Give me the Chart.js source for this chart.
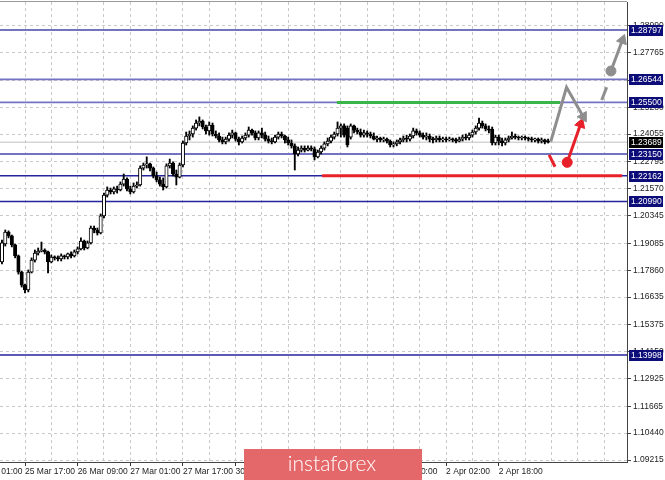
<!DOCTYPE html>
<html>
<head>
<meta charset="utf-8">
<script src="https://cdn.jsdelivr.net/npm/chart.js@4.4.1/dist/chart.umd.min.js"></script>
<style>
  html, body { margin: 0; padding: 0; background: #fff; }
  canvas { display: block; }
</style>
</head>
<body>
<canvas id="chart" width="665" height="480"></canvas>
<script>
// H1 candles, first one sits 7 bars left of the "25 Mar 17:00" tick
const firstBar = -7;

const opens = [
  1.1823, 1.1905, 1.1960, 1.1942, 1.1901, 1.1851, 1.1777, 1.1718,
  1.1696, 1.1777, 1.1832, 1.1864, 1.1873, 1.1878, 1.1869, 1.1823,
  1.1846, 1.1842, 1.1837, 1.1851, 1.1846, 1.1860, 1.1851, 1.1869,
  1.1883, 1.1919, 1.1887, 1.1910, 1.1978, 1.1969, 1.1956, 1.2033,
  1.2128, 1.2151, 1.2142, 1.2156, 1.2151, 1.2178, 1.2201, 1.2156,
  1.2142, 1.2169, 1.2174, 1.2251, 1.2265, 1.2270, 1.2251, 1.2215,
  1.2197, 1.2178, 1.2165, 1.2261, 1.2274, 1.2224, 1.2210, 1.2265,
  1.2365, 1.2397, 1.2406, 1.2433, 1.2456, 1.2465, 1.2438, 1.2420,
  1.2447, 1.2406, 1.2397, 1.2379, 1.2370, 1.2383, 1.2401, 1.2411,
  1.2383, 1.2370, 1.2388, 1.2401, 1.2424, 1.2411, 1.2388, 1.2411,
  1.2401, 1.2383, 1.2374, 1.2370, 1.2392, 1.2406, 1.2397, 1.2379,
  1.2365, 1.2352, 1.2315, 1.2333, 1.2342, 1.2333, 1.2342, 1.2338,
  1.2302, 1.2324, 1.2342, 1.2361, 1.2374, 1.2392, 1.2406, 1.2433,
  1.2443, 1.2433, 1.2392, 1.2443, 1.2424, 1.2415, 1.2401, 1.2411,
  1.2406, 1.2397, 1.2383, 1.2388, 1.2379, 1.2383, 1.2374, 1.2356,
  1.2361, 1.2370, 1.2379, 1.2388, 1.2383, 1.2397, 1.2420, 1.2411,
  1.2401, 1.2392, 1.2397, 1.2383, 1.2379, 1.2388, 1.2379, 1.2383,
  1.2379, 1.2383, 1.2379, 1.2374, 1.2383, 1.2392, 1.2388, 1.2401,
  1.2415, 1.2433, 1.2456, 1.2443, 1.2429, 1.2429, 1.2365, 1.2392,
  1.2374, 1.2365, 1.2379, 1.2388, 1.2397, 1.2392, 1.2388, 1.2392,
  1.2388, 1.2383, 1.2379, 1.2383, 1.2374, 1.2379, 1.2370
];
const highs = [
  1.1923, 1.1969, 1.1965, 1.1946, 1.1905, 1.1855, 1.1782, 1.1723,
  1.1787, 1.1842, 1.1878, 1.1887, 1.1914, 1.1883, 1.1873, 1.1855,
  1.1851, 1.1851, 1.1860, 1.1855, 1.1864, 1.1869, 1.1878, 1.1892,
  1.1933, 1.1923, 1.1919, 1.1987, 1.1987, 1.1978, 1.2042, 1.2137,
  1.2165, 1.2160, 1.2165, 1.2169, 1.2188, 1.2224, 1.2206, 1.2169,
  1.2183, 1.2188, 1.2261, 1.2274, 1.2302, 1.2274, 1.2256, 1.2233,
  1.2210, 1.2206, 1.2270, 1.2292, 1.2279, 1.2242, 1.2274, 1.2374,
  1.2415, 1.2420, 1.2443, 1.2470, 1.2484, 1.2470, 1.2447, 1.2461,
  1.2456, 1.2420, 1.2411, 1.2392, 1.2392, 1.2411, 1.2424, 1.2415,
  1.2392, 1.2397, 1.2411, 1.2438, 1.2429, 1.2420, 1.2420, 1.2433,
  1.2415, 1.2397, 1.2388, 1.2401, 1.2415, 1.2415, 1.2401, 1.2392,
  1.2379, 1.2361, 1.2347, 1.2352, 1.2352, 1.2352, 1.2352, 1.2347,
  1.2333, 1.2352, 1.2370, 1.2388, 1.2401, 1.2415, 1.2461, 1.2452,
  1.2452, 1.2443, 1.2452, 1.2447, 1.2433, 1.2429, 1.2424, 1.2420,
  1.2415, 1.2411, 1.2397, 1.2392, 1.2392, 1.2388, 1.2379, 1.2370,
  1.2379, 1.2388, 1.2397, 1.2401, 1.2406, 1.2433, 1.2429, 1.2420,
  1.2411, 1.2411, 1.2406, 1.2392, 1.2397, 1.2397, 1.2392, 1.2392,
  1.2392, 1.2388, 1.2388, 1.2392, 1.2401, 1.2406, 1.2411, 1.2424,
  1.2443, 1.2479, 1.2465, 1.2452, 1.2443, 1.2438, 1.2401, 1.2401,
  1.2388, 1.2388, 1.2397, 1.2415, 1.2406, 1.2397, 1.2397, 1.2397,
  1.2392, 1.2392, 1.2388, 1.2388, 1.2388, 1.2383, 1.2383
];
const lows = [
  1.1814, 1.1896, 1.1933, 1.1892, 1.1842, 1.1768, 1.1709, 1.1682,
  1.1687, 1.1773, 1.1823, 1.1855, 1.1869, 1.1860, 1.1773, 1.1819,
  1.1832, 1.1828, 1.1828, 1.1837, 1.1837, 1.1842, 1.1846, 1.1860,
  1.1878, 1.1878, 1.1883, 1.1905, 1.1956, 1.1946, 1.1951, 1.2024,
  1.2119, 1.2133, 1.2133, 1.2137, 1.2147, 1.2169, 1.2147, 1.2133,
  1.2137, 1.2160, 1.2169, 1.2242, 1.2251, 1.2238, 1.2206, 1.2188,
  1.2169, 1.2151, 1.2160, 1.2251, 1.2215, 1.2174, 1.2206, 1.2256,
  1.2356, 1.2379, 1.2392, 1.2424, 1.2443, 1.2429, 1.2406, 1.2401,
  1.2397, 1.2388, 1.2370, 1.2361, 1.2361, 1.2374, 1.2388, 1.2374,
  1.2356, 1.2365, 1.2379, 1.2392, 1.2401, 1.2379, 1.2379, 1.2388,
  1.2374, 1.2365, 1.2361, 1.2365, 1.2383, 1.2388, 1.2365, 1.2356,
  1.2342, 1.2242, 1.2306, 1.2324, 1.2324, 1.2329, 1.2329, 1.2288,
  1.2297, 1.2315, 1.2333, 1.2352, 1.2365, 1.2383, 1.2397, 1.2392,
  1.2392, 1.2347, 1.2383, 1.2411, 1.2406, 1.2392, 1.2392, 1.2392,
  1.2388, 1.2379, 1.2370, 1.2370, 1.2370, 1.2365, 1.2347, 1.2347,
  1.2352, 1.2361, 1.2370, 1.2370, 1.2374, 1.2388, 1.2401, 1.2392,
  1.2383, 1.2379, 1.2370, 1.2365, 1.2370, 1.2370, 1.2370, 1.2370,
  1.2374, 1.2370, 1.2365, 1.2370, 1.2374, 1.2379, 1.2379, 1.2392,
  1.2406, 1.2424, 1.2433, 1.2420, 1.2411, 1.2356, 1.2356, 1.2356,
  1.2352, 1.2356, 1.2370, 1.2383, 1.2383, 1.2379, 1.2379, 1.2379,
  1.2374, 1.2370, 1.2370, 1.2365, 1.2365, 1.2361, 1.2365
];
const closes = [
  1.1910, 1.1960, 1.1942, 1.1901, 1.1851, 1.1777, 1.1718, 1.1696,
  1.1777, 1.1832, 1.1864, 1.1873, 1.1878, 1.1869, 1.1823, 1.1846,
  1.1842, 1.1837, 1.1851, 1.1846, 1.1860, 1.1851, 1.1869, 1.1883,
  1.1919, 1.1887, 1.1910, 1.1978, 1.1969, 1.1956, 1.2033, 1.2128,
  1.2151, 1.2142, 1.2156, 1.2151, 1.2178, 1.2201, 1.2156, 1.2142,
  1.2169, 1.2174, 1.2251, 1.2265, 1.2270, 1.2251, 1.2215, 1.2197,
  1.2178, 1.2165, 1.2261, 1.2274, 1.2224, 1.2210, 1.2265, 1.2365,
  1.2397, 1.2406, 1.2433, 1.2456, 1.2465, 1.2438, 1.2420, 1.2447,
  1.2406, 1.2397, 1.2379, 1.2370, 1.2383, 1.2401, 1.2411, 1.2383,
  1.2370, 1.2388, 1.2401, 1.2424, 1.2411, 1.2388, 1.2411, 1.2401,
  1.2383, 1.2374, 1.2370, 1.2392, 1.2406, 1.2397, 1.2379, 1.2365,
  1.2352, 1.2315, 1.2333, 1.2342, 1.2333, 1.2342, 1.2338, 1.2302,
  1.2324, 1.2342, 1.2361, 1.2374, 1.2392, 1.2406, 1.2433, 1.2443,
  1.2401, 1.2356, 1.2443, 1.2424, 1.2415, 1.2401, 1.2411, 1.2406,
  1.2397, 1.2383, 1.2388, 1.2379, 1.2383, 1.2374, 1.2356, 1.2361,
  1.2370, 1.2379, 1.2388, 1.2383, 1.2397, 1.2420, 1.2411, 1.2401,
  1.2392, 1.2397, 1.2383, 1.2379, 1.2388, 1.2379, 1.2383, 1.2379,
  1.2383, 1.2379, 1.2374, 1.2383, 1.2392, 1.2388, 1.2401, 1.2415,
  1.2433, 1.2456, 1.2443, 1.2429, 1.2424, 1.2365, 1.2392, 1.2374,
  1.2365, 1.2379, 1.2388, 1.2397, 1.2392, 1.2388, 1.2392, 1.2388,
  1.2383, 1.2379, 1.2383, 1.2374, 1.2379, 1.2370, 1.23689
];

// axis
const priceTicks = [1.28990, 1.27765, 1.26505, 1.25280, 1.24055, 1.22795, 1.21570, 1.20345,
  1.19085, 1.17860, 1.16635, 1.15375, 1.14150, 1.12925, 1.11665, 1.10440, 1.09215];
const timeTickBars = [-16, 0, 16, 32, 48, 64, 80, 96, 112, 128, 144];
const timeLabels = ['25 Mar 01:00', '25 Mar 17:00', '26 Mar 09:00', '27 Mar 01:00', '27 Mar 17:00',
  '30 Mar 09:00', '31 Mar 01:00', '31 Mar 17:00', '1 Apr 10:00', '2 Apr 02:00', '2 Apr 18:00'];

// horizontal levels and the last price
const levels = [1.28797, 1.26544, 1.25500, 1.23150, 1.22162, 1.20990, 1.13998];
const lastPrice = 1.23689;

// target lines: [fromBar, toBar, price]
const greenTarget = [94.8, 162.6, 1.25500];
const redTarget = [90.3, 181.5, 1.22162];

// forecast arrows, [bar, price] pairs
const grayPath = [[159.8, 1.2371], [164.6, 1.2619], [169.7, 1.2485]];
const grayDash = [[175.3, 1.2561], [176.8, 1.2619]];
const grayUp = [[178.1, 1.2693], [181.6, 1.2834]];
const redDash = [[159.3, 1.2311], [161.1, 1.2257]];
const redUp = [[164.8, 1.2277], [168.9, 1.2452]];

// ---- styling
const levelColors = ['#4444a8', '#7373c2', '#7373c2', '#7373c2', '#24249c', '#24249c', '#24249c'];
const FONT = '"Liberation Sans", Arial, sans-serif';
const GRAY = '#8e8e8e';
const RED = '#e8202a';

const bars = opens.map((_, k) => k + firstBar);
const toPts = arr => arr.map(p => ({ x: p[0], y: p[1] }));

function headAngle(c) {
  const d = c.dataset.data, i = c.dataIndex;
  if (i === 0) return 0;
  const { x, y } = c.chart.scales;
  const dx = x.getPixelForValue(d[i].x) - x.getPixelForValue(d[i - 1].x);
  const dy = y.getPixelForValue(d[i].y) - y.getPixelForValue(d[i - 1].y);
  return Math.atan2(dx, -dy) * 180 / Math.PI;
}

function arrow(points, color, startDot) {
  const n = points.length;
  return {
    type: 'line', data: toPts(points), order: 0,
    borderColor: color, borderWidth: 3, tension: 0, fill: false,
    pointRadius: points.map((_, i) => i === n - 1 ? 6 : (i === 0 && startDot ? 5 : 0)),
    pointStyle: points.map((_, i) => i === n - 1 ? 'triangle' : 'circle'),
    pointBackgroundColor: color, pointBorderColor: color, pointBorderWidth: 1,
    pointRotation: headAngle
  };
}
function segment(points, color) {
  return { type: 'line', data: toPts(points), order: 0, borderColor: color, borderWidth: 3,
    pointRadius: 0, fill: false, tension: 0 };
}
function hline(from, to, value, color, width, order) {
  return { type: 'line', data: [{ x: from, y: value }, { x: to, y: value }], order,
    borderColor: color, borderWidth: width, pointRadius: 0, fill: false };
}

const datasets = [];
// candle bodies
datasets.push({
  type: 'bar', order: 1, grouped: false,
  data: bars.map((b, k) => ({ x: b, y: [opens[k], closes[k]] })),
  backgroundColor: bars.map((_, k) => closes[k] >= opens[k] ? '#ffffff' : '#000000'),
  borderColor: '#000000', borderWidth: 1, borderSkipped: false,
  barThickness: 3.4, minBarLength: 1
});
// wicks
datasets.push({
  type: 'bar', order: 2, grouped: false,
  data: bars.map((b, k) => ({ x: b, y: [lows[k], highs[k]] })),
  backgroundColor: '#000000', borderWidth: 0, barThickness: 1.2
});
levels.forEach((v, i) => datasets.push(hline(-10, 190, v, levelColors[i], i === 0 || i > 3 ? 1.4 : 1.8, 5)));
datasets.push(hline(-10, 190, lastPrice, '#c0c0c0', 1, 6));
datasets.push(hline(greenTarget[0], greenTarget[1], greenTarget[2], '#3ab54a', 3, 4));
datasets.push(hline(redTarget[0], redTarget[1], redTarget[2], RED, 3, 4));
datasets.push(arrow(grayPath, GRAY, false));
datasets.push(segment(grayDash, GRAY));
datasets.push(arrow(grayUp, GRAY, true));
datasets.push(segment(redDash, RED));
datasets.push(arrow(redUp, RED, true));

const overlay = {
  id: 'overlay',
  afterDraw(chart) {
    const { ctx, chartArea: a, scales: { x, y } } = chart;
    ctx.save();
    // frame top
    ctx.strokeStyle = '#9a9a9a';
    ctx.lineWidth = 1;
    ctx.beginPath();
    ctx.moveTo(0, a.top - 0.5);
    ctx.lineTo(a.right, a.top - 0.5);
    ctx.stroke();

    // price tags on the axis
    ctx.font = '8.5px ' + FONT;
    ctx.textBaseline = 'middle';
    ctx.textAlign = 'left';
    const tag = (v, bg) => {
      const py = Math.round(y.getPixelForValue(v));
      ctx.fillStyle = bg;
      ctx.fillRect(a.right + 2, py - 5, 34, 11);
      ctx.fillStyle = '#ffffff';
      ctx.fillText(v.toFixed(5), a.right + 4, py + 0.5);
    };
    levels.forEach(v => tag(v, '#0d0d7a'));
    tag(lastPrice, '#000000');

    // time label cut by the left edge
    ctx.fillStyle = '#222';
    ctx.textBaseline = 'top';
    ctx.font = '8.5px ' + FONT;
    ctx.fillText(timeLabels[0], x.getPixelForValue(timeTickBars[0]), a.bottom + 5);

    // watermark
    ctx.fillStyle = '#e4676a';
    ctx.fillRect(244, 449, 178, 31);
    ctx.fillStyle = '#ffffff';
    ctx.font = '300 21px Lato, sans-serif';
    ctx.textAlign = 'center';
    ctx.textBaseline = 'middle';
    ctx.fillText('instaforex', 332, 464);
    ctx.restore();
  }
};

const noPad = s => { s.paddingLeft = 0; s.paddingRight = 0; s.paddingTop = 0; s.paddingBottom = 0; };

new Chart(document.getElementById('chart'), {
  type: 'bar',
  data: { datasets },
  options: {
    responsive: false,
    animation: false,
    devicePixelRatio: 1,
    layout: { autoPadding: false, padding: { top: 2, left: 0, right: 0, bottom: 0 } },
    plugins: { legend: { display: false }, tooltip: { enabled: false } },
    scales: {
      x: {
        type: 'linear', min: -7.6, max: 182.98, offset: false,
        afterBuildTicks: s => {
          const t = [];
          for (let v = 0; v <= 176; v += 8) t.push({ value: v });
          s.ticks = t;
        },
        afterFit: s => { s.height = 18; noPad(s); },
        grid: {
          offset: false, color: '#c9c9c9', tickLength: 4, tickBorderDash: [],
          tickColor: c => timeTickBars.includes(c.tick && c.tick.value) ? '#333' : 'rgba(0,0,0,0)'
        },
        border: { color: '#444', width: 1, dash: [3, 3] },
        ticks: {
          autoSkip: false, maxRotation: 0, align: 'start', padding: 1,
          color: '#222', font: { family: FONT, size: 8.5 },
          callback: v => {
            const i = timeTickBars.indexOf(v);
            return i >= 0 ? timeLabels[i] : '';
          }
        }
      },
      y: {
        type: 'linear', position: 'right', min: 1.09124, max: 1.30072,
        afterBuildTicks: s => { s.ticks = priceTicks.map(v => ({ value: v })); },
        afterFit: s => { s.width = 38; noPad(s); },
        grid: { color: '#c9c9c9', tickLength: 4, tickColor: '#444', tickBorderDash: [] },
        border: { color: '#444', width: 1, dash: [3, 3] },
        ticks: {
          autoSkip: false, padding: 2, color: '#222', font: { family: FONT, size: 8.5 },
          callback: v => v.toFixed(5)
        }
      }
    }
  },
  plugins: [overlay]
});
</script>
</body>
</html>
